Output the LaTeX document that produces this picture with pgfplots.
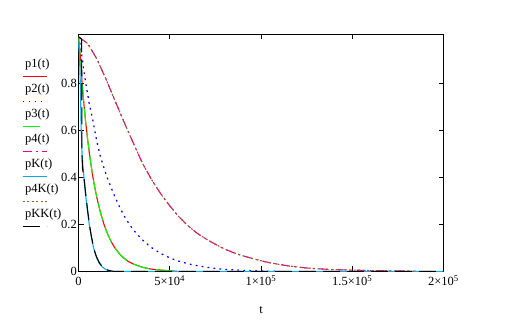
\documentclass[border=0pt]{standalone}
\usepackage{fontspec}
\setmainfont{Liberation Serif}
\usepackage{pgfplots}
\pgfplotsset{compat=1.18}
\begin{document}
\fontsize{12bp}{14bp}\selectfont
\begin{tikzpicture}
\useasboundingbox (0,0) rectangle (508bp,327bp);
\begin{axis}[
  at={(78.5bp,55.5bp)}, anchor=south west,
  scale only axis, width=365bp, height=237bp,
  xmin=0, xmax=200000, ymin=0, ymax=1.01,
  scaled x ticks=false, scaled y ticks=false,
  xtick={0,50000,100000,150000,200000},
  xticklabels={0,5×10\textsuperscript{4},1×10\textsuperscript{5},1.5×10\textsuperscript{5},2×10\textsuperscript{5}},
  ytick={0,0.2,0.4,0.6,0.8},
  yticklabels={0,0.2,0.4,0.6,0.8},
  tick align=inside, major tick length=5bp,
  tick style={black, line width=1bp},
  axis line style={black, line width=1bp},
  xticklabel style={font=\fontsize{12.5bp}{14bp}\selectfont, anchor=north, text height=8bp, text depth=0pt, inner ysep=6bp},
  yticklabel style={font=\fontsize{12.5bp}{14bp}\selectfont, anchor=east, inner xsep=1.5bp},
  xlabel={t},
  xlabel style={font=\fontsize{12.5bp}{14bp}\selectfont, at={(axis description cs:0.5,0)}, anchor=north, yshift=-34bp, inner sep=0pt, text height=8bp, text depth=0pt},
  legend image code/.code={\path (0,0); \draw[overlay,line width=1.2bp,#1] (0bp,-12bp) -- (24bp,-12bp);},
  legend style={draw=none, fill=none, at={(-0.1548,0.8966)}, anchor=north west,
    inner sep=0pt, outer sep=0pt, row sep=14bp, column sep=0pt,
    font=\fontsize{12.5bp}{14bp}\selectfont,
    nodes={inner xsep=2bp, inner ysep=0pt, text height=8bp, text depth=3bp}},
  legend cell align=left,
  every axis plot/.append style={line width=1bp},
]
% p1 red solid
\addplot[red, solid, line width=1.1bp] coordinates {
(0,1.0) (1000,0.92) (2000,0.80) (3000,0.71) (4000,0.632) (5000,0.563) (6000,0.502)
(7000,0.447) (8000,0.398) (9000,0.355) (10000,0.317) (12000,0.252) (14000,0.200)
(16000,0.159) (18000,0.126) (20000,0.100) (22500,0.075) (25000,0.056) (27500,0.042)
(30000,0.032) (35000,0.018) (40000,0.010) (45000,0.006) (50000,0.003) (54000,0.001)};
\addlegendentry{p1(t)}
% p2 blue dotted
\addplot[blue, dash pattern=on 1.8bp off 4.2bp, line width=1.2bp] coordinates {
(0,1.0) (1000,0.965) (2000,0.91) (3000,0.855) (4000,0.80) (5000,0.757) (6000,0.71)
(7000,0.675) (8000,0.64) (10000,0.555) (12000,0.49) (14000,0.44) (16000,0.395)
(18000,0.355) (20000,0.318) (22500,0.275) (25000,0.237) (27500,0.206) (30000,0.178)
(32500,0.156) (35000,0.135) (37500,0.118) (40000,0.102) (45000,0.077) (50000,0.058)
(55000,0.044) (60000,0.033) (65000,0.025) (70000,0.018) (75000,0.013) (80000,0.009)
(90000,0.005) (100000,0.002) (108000,0.001)};
\addlegendentry{p2(t)}
% p3 green long dash
\addplot[green, dash pattern=on 17bp off 7bp, line width=1.1bp] coordinates {
(0,1.0) (1000,0.92) (2000,0.80) (3000,0.71) (4000,0.632) (5000,0.563) (6000,0.502)
(7000,0.447) (8000,0.398) (9000,0.355) (10000,0.317) (12000,0.252) (14000,0.200)
(16000,0.159) (18000,0.126) (20000,0.100) (22500,0.075) (25000,0.056) (27500,0.042)
(30000,0.032) (35000,0.018) (40000,0.010) (45000,0.006) (50000,0.003) (54000,0.001)};
\addlegendentry{p3(t)}
% p4 magenta dash-dot
\addplot[magenta, dash pattern=on 9bp off 4bp on 2bp off 4bp, line width=1.1bp] coordinates {
(0,1.0) (5000,0.972) (10000,0.907) (15000,0.821) (20000,0.728) (25000,0.636)
(30000,0.548) (35000,0.462) (40000,0.392) (45000,0.332) (50000,0.280) (55000,0.233)
(60000,0.195) (65000,0.163) (70000,0.138) (75000,0.116) (80000,0.096) (85000,0.080)
(90000,0.067) (95000,0.056) (100000,0.046) (105000,0.037) (110000,0.030) (115000,0.024)
(120000,0.019) (125000,0.015) (130000,0.012) (140000,0.008) (150000,0.006)
(160000,0.004) (170000,0.003) (180000,0.002) (185000,0.001)};
\addlegendentry{p4(t)}
% pK cyan solid
\addplot[cyan, solid, line width=1.1bp] coordinates {
(0,0.98) (500,0.93) (1000,0.80) (1500,0.60) (2000,0.49) (3000,0.40) (4000,0.32)
(5000,0.255) (6000,0.195) (7000,0.15) (8000,0.11) (9000,0.08) (10000,0.058)
(11500,0.035) (13000,0.02) (14500,0.011) (16000,0.005) (18000,0.001) (20000,0)
(200000,0)};
\addlegendentry{pK(t)}
% p4K brown dotted
\addplot[brown!75!black, dash pattern=on 2bp off 2.5bp, line width=1.1bp] coordinates {
(0,1.0) (5000,0.972) (10000,0.907) (15000,0.821) (20000,0.728) (25000,0.636)
(30000,0.548) (35000,0.462) (40000,0.392) (45000,0.332) (50000,0.280) (55000,0.233)
(60000,0.195) (65000,0.163) (70000,0.138) (75000,0.116) (80000,0.096) (85000,0.080)
(90000,0.067) (95000,0.056) (100000,0.046) (105000,0.037) (110000,0.030) (115000,0.024)
(120000,0.019) (125000,0.015) (130000,0.012) (140000,0.008) (150000,0.006)
(160000,0.004) (170000,0.003) (180000,0.002) (185000,0.001)};
\addlegendentry{p4K(t)}
% pKK black long dash
\addplot[black, dash pattern=on 17bp off 7bp, line width=1.1bp] coordinates {
(0,1.0) (1700,0.99) (1900,0.50) (2200,0.44) (3000,0.40) (4000,0.325) (5000,0.26)
(6000,0.20) (7000,0.152) (8000,0.113) (9000,0.082) (10000,0.06) (11500,0.036)
(13000,0.021) (14500,0.012) (16000,0.006) (18000,0.002) (20000,0) (200000,0)};
\addlegendentry{pKK(t)}
\end{axis}
\end{tikzpicture}
\end{document}
